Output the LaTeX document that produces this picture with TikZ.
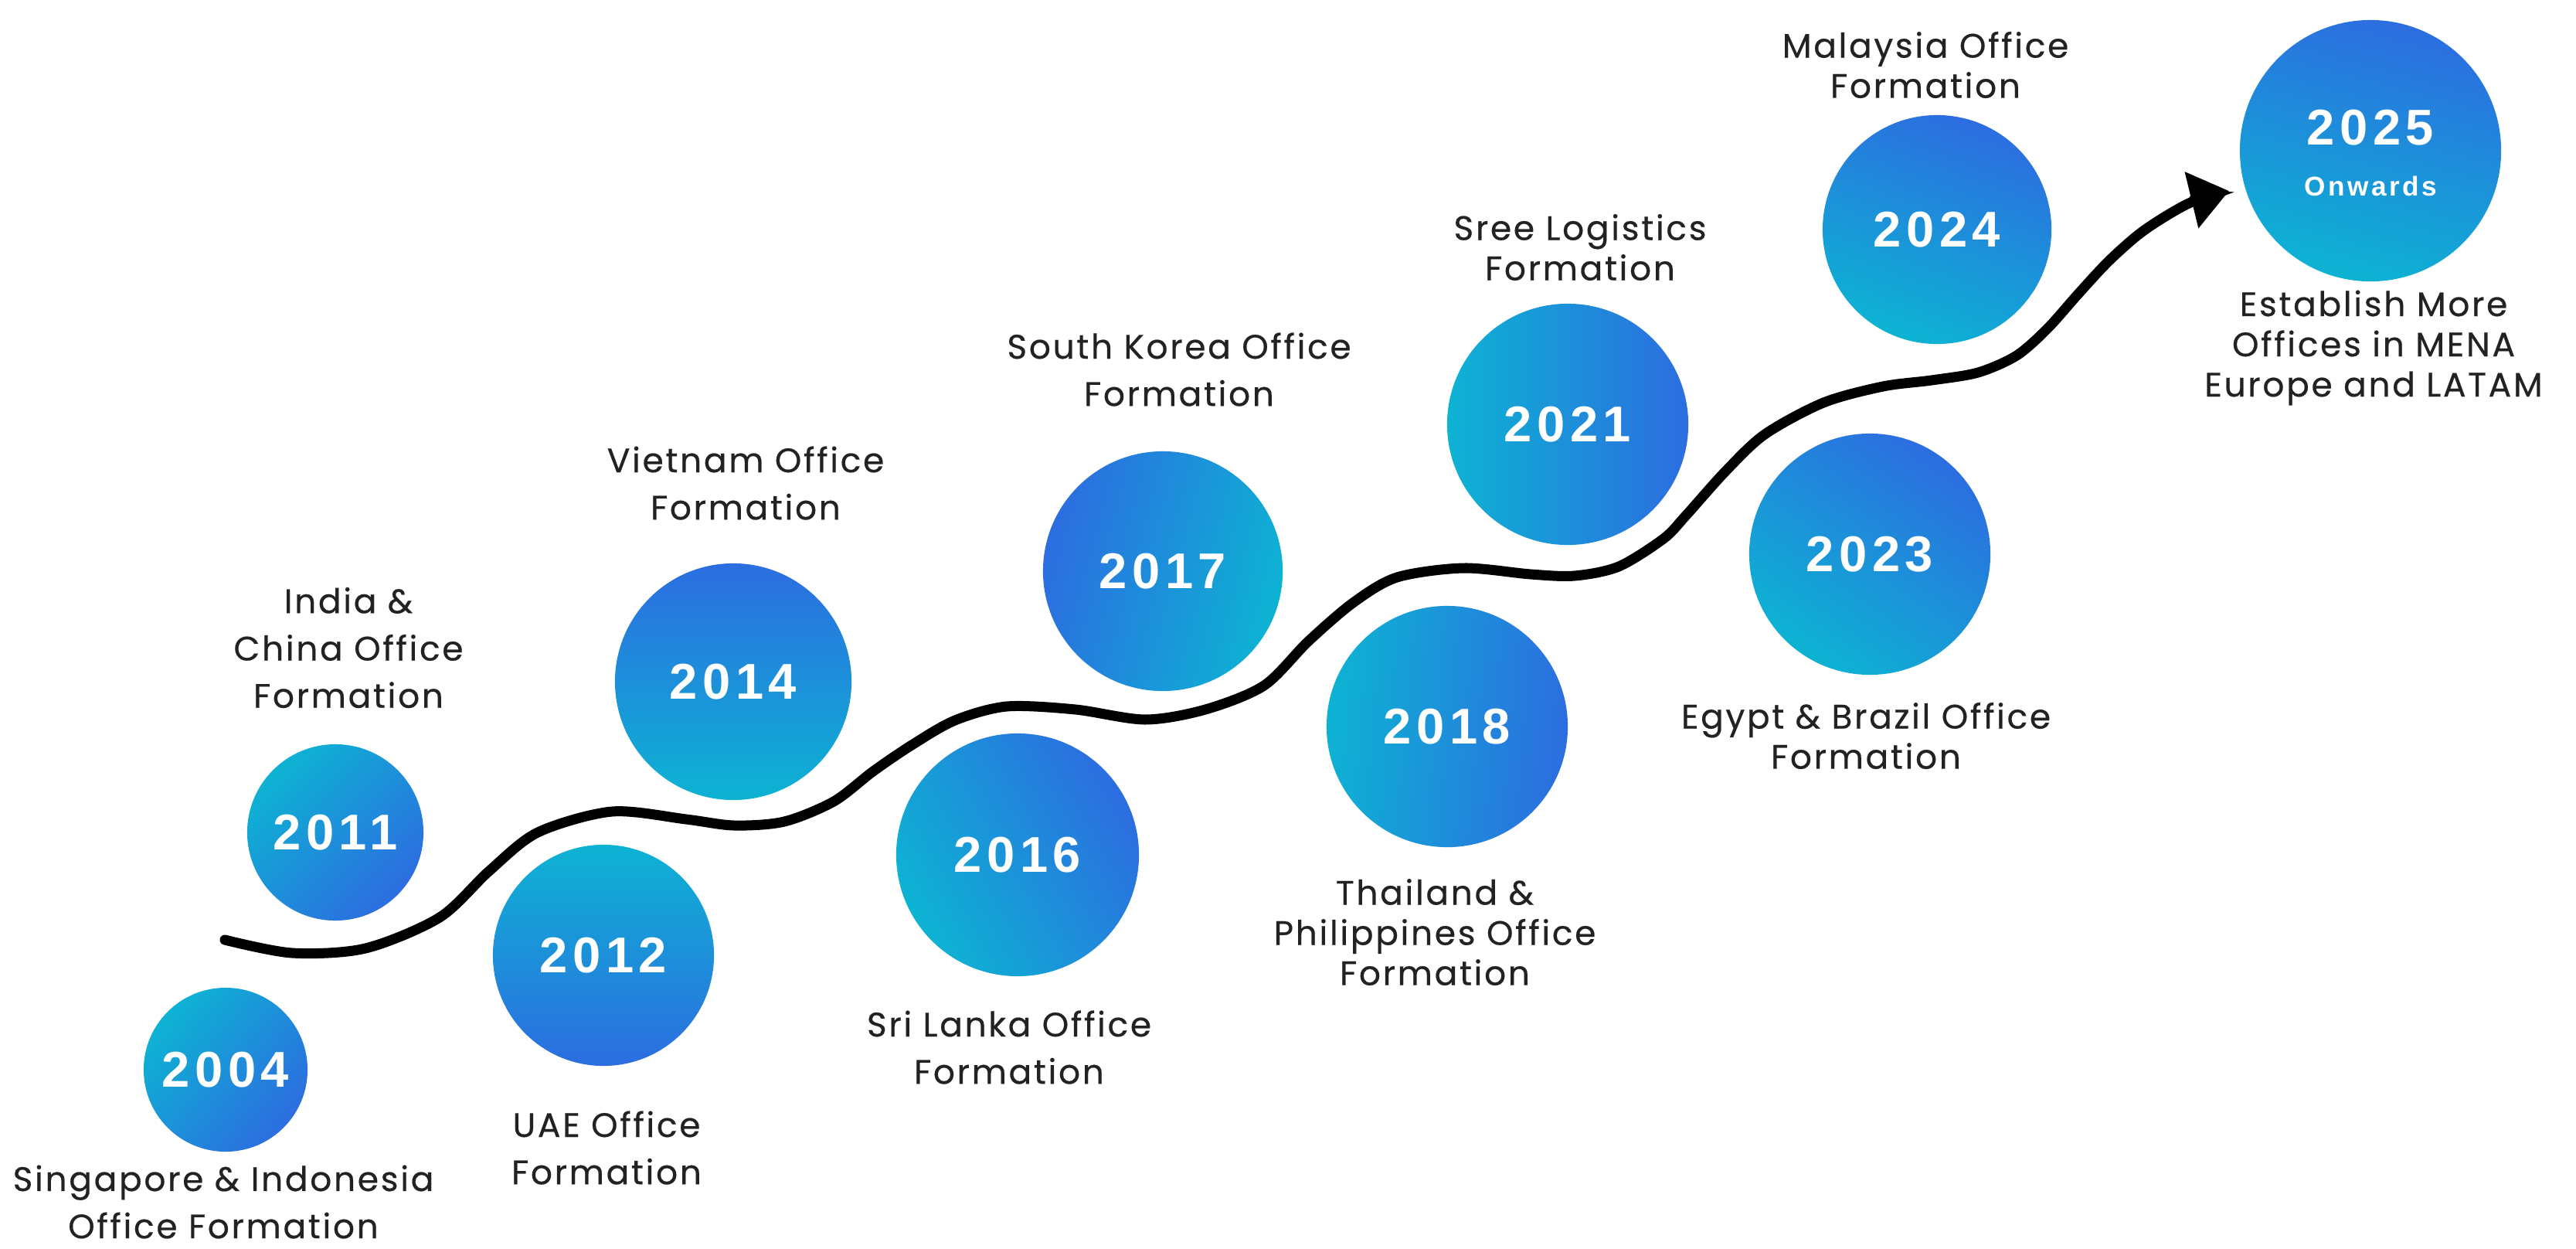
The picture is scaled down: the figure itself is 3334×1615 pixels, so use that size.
\documentclass[tikz,border=0pt]{standalone}
\usepackage{fontspec}
\setmainfont{Poppins}
\newfontfamily\lblfont{Poppins}[LetterSpace=6,FakeBold=0.4]
\newfontfamily\yrfont{Liberation Sans}[LetterSpace=10]
\usetikzlibrary{arrows.meta}
\definecolor{cyn}{HTML}{0DB3D3}
\definecolor{blu}{HTML}{2C6DE0}
\definecolor{ink}{HTML}{222222}
\begin{document}
\begin{tikzpicture}[x=0.01cm,y=-0.01cm,
  yr/.style={circle, inner sep=0pt, text=white, font=\yrfont\bfseries\fontsize{18.5}{20}\selectfont},
  cu/.style={top color=cyn, bottom color=blu},
  cd/.style={top color=blu, bottom color=cyn},
  yt/.style={inner sep=0pt, text=white, font=\yrfont\bfseries\fontsize{18.5}{20}\selectfont},
  lbl/.style={align=center, text=ink, inner sep=0pt, font=\lblfont\fontsize{12.5}{17.4}\selectfont},
  lbln/.style={align=center, text=ink, inner sep=0pt, font=\lblfont\fontsize{12.5}{14.8}\selectfont},
  wave/.style={line width=0.13cm, line cap=round, -{Triangle[length=0.5cm,width=0.72cm]}}
]
\fill[white] (0,0) rectangle (3334,1615);
\useasboundingbox (0,0) rectangle (3334,1615);

% curve
\coordinate (cstart) at (291,1216);
\coordinate (ctip) at (2885,247);
\draw[wave] plot[smooth, tension=0.5] coordinates {(cstart) (378,1233) (473,1227) (569,1187) (633,1127) (696,1077) (792,1050) (888,1060) (950,1068) (1015,1063) (1079,1037) (1130,998) (1180,964) (1236,932) (1303,914) (1392,918) (1482,931) (1560,918) (1636,887) (1693,830) (1751,780) (1808,747) (1894,735) (1981,743) (2038,745) (2095,733) (2153,697) (2182,667) (2233,610) (2284,562) (2360,521) (2437,500) (2500,492) (2560,482) (2610,460) (2650,425) (2690,380) (2730,337) (2775,298) (2833,263) (ctip)};

% circles
\node[yr, cu, shading angle=50, minimum size=2.12cm] (y2004) at (292,1384) {2004};
\node[yr, cu, shading angle=45, minimum size=2.28cm] (y2011) at (434,1077) {2011};
\node[yr, cu, minimum size=2.86cm] (y2012) at (781,1236) {2012};
\node[yr, cd, minimum size=3.06cm] (y2014) at (949,882) {2014};
\node[yr, cd, shading angle=-60, minimum size=3.14cm] (y2016) at (1317,1106) {2016};
\node[yr, cd, shading angle=75, minimum size=3.10cm] (y2017) at (1505,739) {2017};
\node[yr, cu, shading angle=85, minimum size=3.12cm] (y2018) at (1873,940) {2018};
\node[yr, cu, shading angle=90, minimum size=3.12cm] (y2021) at (2029,549) {2021};
\node[yr, cd, shading angle=-35, minimum size=3.12cm] (y2023) at (2420,717) {2023};
\node[yr, cd, shading angle=-20, minimum size=2.96cm] (y2024) at (2507,297) {2024};
\node[yr, cd, shading angle=-15, minimum size=3.38cm] (y2025) at (3068,195) {};
\node[yt] (n2025) at (3068,165) {2025};
\node[yt, font=\yrfont\bfseries\fontsize{10}{12}\selectfont] (onw) at (3068,241) {Onwards};

% labels
\node[lbl] (t2004) at (289,1555) {Singapore \& Indonesia\\Office Formation};
\node[lbl] (t2011) at (451,838) {India \&\\China Office\\Formation};
\node[lbl] (t2012) at (785,1485) {UAE Office\\Formation};
\node[lbl] (t2014) at (965,625) {Vietnam Office\\Formation};
\node[lbl] (t2016) at (1306,1355) {Sri Lanka Office\\Formation};
\node[lbl] (t2017) at (1526,478) {South Korea Office\\Formation};
\node[lbln] (t2018) at (1857,1206) {Thailand \&\\Philippines Office\\Formation};
\node[lbln] (t2021) at (2045,320) {Sree Logistics\\Formation};
\node[lbln] (t2023) at (2415,952) {Egypt \& Brazil Office\\Formation};
\node[lbln] (t2024) at (2492,84) {Malaysia Office\\Formation};
\node[lbln] (t2025) at (3072,450) {Establish More\\Offices in MENA\\Europe and LATAM};
\end{tikzpicture}
\end{document}
